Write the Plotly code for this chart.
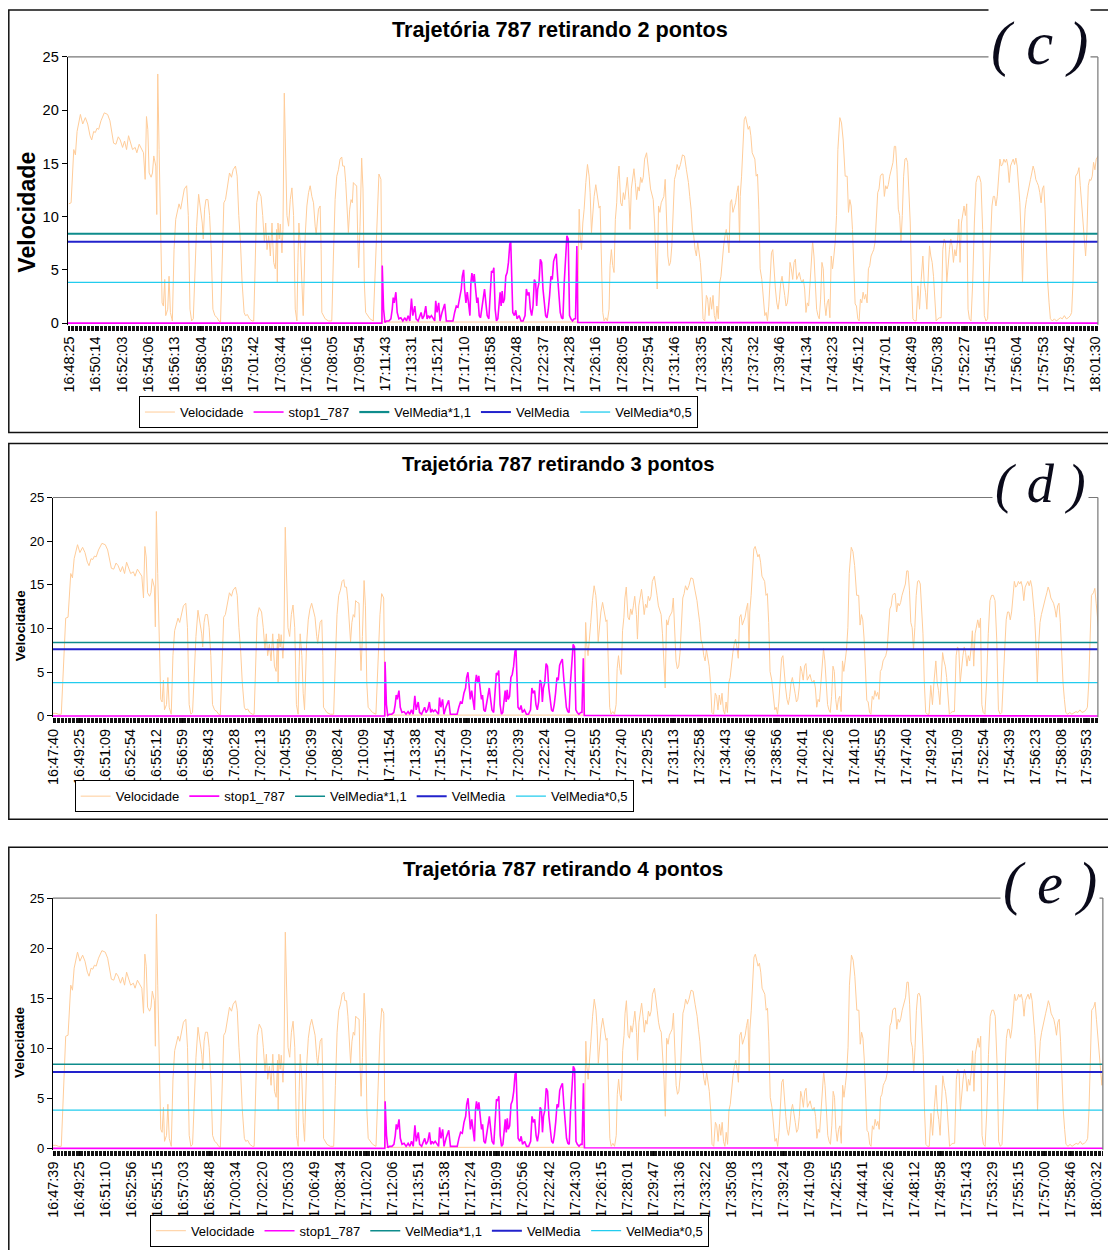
import plotly.graph_objects as go

W, H = 1108, 1250
FONT = "Liberation Sans, Arial, sans-serif"
SERIF = "Liberation Serif, Times New Roman, serif"
# the photographed page is inset by about 8px and shrunk slightly; positions below are
# taken from the reference picture and mapped back onto the page
INSET, SX, SY = 8.0, 0.992, 0.989

# ---------------- tick labels ----------------
labels_c = ["16:48:25", "16:50:14", "16:52:03", "16:54:06", "16:56:13", "16:58:04", "16:59:53",
            "17:01:42", "17:03:44", "17:06:16", "17:08:05", "17:09:54", "17:11:43", "17:13:31",
            "17:15:21", "17:17:10", "17:18:58", "17:20:48", "17:22:37", "17:24:28", "17:26:16",
            "17:28:05", "17:29:54", "17:31:46", "17:33:35", "17:35:24", "17:37:32", "17:39:46",
            "17:41:34", "17:43:23", "17:45:12", "17:47:01", "17:48:49", "17:50:38", "17:52:27",
            "17:54:15", "17:56:04", "17:57:53", "17:59:42", "18:01:30"]
labels_d = ["16:47:40", "16:49:25", "16:51:09", "16:52:54", "16:55:12", "16:56:59", "16:58:43",
            "17:00:28", "17:02:13", "17:04:55", "17:06:39", "17:08:24", "17:10:09", "17:11:54",
            "17:13:38", "17:15:24", "17:17:09", "17:18:53", "17:20:39", "17:22:24", "17:24:10",
            "17:25:55", "17:27:40", "17:29:25", "17:31:13", "17:32:58", "17:34:43", "17:36:46",
            "17:38:56", "17:40:41", "17:42:26", "17:44:10", "17:45:55", "17:47:40", "17:49:24",
            "17:51:09", "17:52:54", "17:54:39", "17:56:23", "17:58:08", "17:59:53"]
labels_e = ["16:47:39", "16:49:25", "16:51:10", "16:52:56", "16:55:15", "16:57:03", "16:58:48",
            "17:00:34", "17:02:20", "17:05:03", "17:06:49", "17:08:34", "17:10:20", "17:12:06",
            "17:13:51", "17:15:38", "17:17:24", "17:19:09", "17:20:56", "17:22:42", "17:24:30",
            "17:26:15", "17:28:01", "17:29:47", "17:31:36", "17:33:22", "17:35:08", "17:37:13",
            "17:39:24", "17:41:09", "17:42:55", "17:44:41", "17:46:26", "17:48:12", "17:49:58",
            "17:51:43", "17:53:29", "17:55:15", "17:57:00", "17:58:46", "18:00:32"]

# ---------------- velocity (sample index, value) ----------------
vel_t = [1, 8, 16, 21, 26, 31, 36, 43, 51, 58, 65, 70, 76, 81, 86, 91, 98, 108, 118, 125, 131, 136,
         143, 150, 156, 163, 169, 175, 181, 187, 193, 201, 206, 213, 220, 226, 231, 235, 239, 243,
         249, 253, 257, 263, 266, 269, 273, 278, 282, 286, 290, 293, 299, 303, 307, 313, 318, 323,
         328, 333, 338, 343, 349, 356, 361, 366, 371, 376, 381, 386, 392, 398, 403, 406, 410, 414,
         420, 425, 430, 435, 441, 448, 453, 458, 463, 468, 473, 478, 485, 491, 496, 503, 508, 513,
         518, 523, 529, 533, 539, 545, 553, 558, 563, 567, 573, 580, 585, 590, 594, 598, 603, 608,
         613, 618, 623, 627, 629, 631, 635, 638, 643, 646, 650, 655, 658, 663, 668, 673, 678, 683,
         688, 691, 694, 699, 703, 707, 713, 718, 723, 728, 733, 738, 743, 746, 749, 753, 758,
         761, 763, 773, 783, 793, 798, 803, 808, 813, 818, 823, 826, 831, 835, 839, 843, 847, 851,
         855, 858, 863, 868, 871, 874, 878, 883, 887, 891, 895, 901, 908, 918, 925, 930, 935, 941,
         945, 1533,
         1538, 1541, 1545, 1549, 1553, 1558, 1563, 1568, 1571, 1575, 1579, 1583, 1588, 1593, 1598,
         1601, 1605, 1609, 1613, 1618, 1623, 1628, 1631, 1635, 1639, 1643, 1647, 1651, 1654, 1658,
         1663, 1667, 1671, 1675, 1679, 1683, 1688, 1691, 1695, 1699, 1703, 1707, 1711, 1715, 1719,
         1723, 1727, 1731, 1735, 1741, 1745, 1749, 1753, 1757, 1761, 1765, 1769, 1773, 1777, 1781,
         1785, 1789, 1793, 1797, 1801, 1805, 1809, 1813, 1817, 1821, 1825, 1829, 1833, 1838, 1843,
         1849, 1855, 1861, 1867, 1871, 1875, 1879, 1883, 1887, 1891, 1895, 1899, 1903, 1907, 1911,
         1916, 1921, 1925, 1929, 1933, 1937, 1941, 1945, 1949, 1953, 1957, 1961, 1965, 1969, 1973,
         1977, 1981, 1985, 1989, 1993, 1997, 2001, 2005, 2009, 2013, 2017, 2021, 2023, 2027, 2031,
         2035, 2039, 2043, 2047, 2051, 2055, 2059, 2063, 2067, 2071, 2075, 2079, 2083, 2088, 2093,
         2097, 2101, 2105, 2109, 2113, 2117, 2121, 2125, 2129, 2133, 2137, 2141, 2145, 2149, 2153,
         2157, 2161, 2165, 2169, 2173, 2177, 2181, 2185, 2189, 2193, 2197, 2201, 2205, 2209, 2213,
         2217, 2221, 2225, 2229, 2233, 2237, 2241, 2245, 2249, 2253, 2257, 2261, 2265, 2269, 2273,
         2277, 2281, 2285, 2289, 2293, 2297, 2301, 2305, 2309, 2313, 2317, 2323, 2328, 2333, 2339,
         2345, 2349, 2353, 2357, 2361, 2365, 2369, 2373, 2377, 2381, 2385, 2389, 2393, 2397, 2401,
         2405, 2409, 2413, 2417, 2421, 2425, 2429, 2433, 2437, 2441, 2445, 2449, 2453, 2457, 2461,
         2465, 2469, 2473, 2478, 2483, 2487, 2491, 2495, 2499, 2503, 2507, 2511, 2515, 2519, 2523,
         2527, 2531, 2535, 2539, 2543, 2548, 2553, 2558, 2563, 2568, 2573, 2577, 2581, 2585, 2589,
         2593, 2597, 2601, 2605, 2609, 2613, 2618, 2623, 2628, 2633, 2637, 2641, 2645, 2649, 2653,
         2657, 2661, 2665, 2669, 2673, 2677, 2681, 2685, 2689, 2693, 2697, 2701, 2705, 2709, 2713,
         2718, 2723, 2728, 2733, 2738, 2743, 2748, 2753, 2758, 2763, 2768, 2773, 2777, 2781, 2785,
         2789, 2793, 2797, 2801, 2805, 2809, 2813, 2817, 2821, 2825, 2829, 2833, 2837, 2841, 2845,
         2849, 2853, 2857, 2861, 2865, 2869, 2873, 2877, 2881, 2885, 2889, 2893, 2897, 2901, 2905,
         2909, 2913, 2917, 2921, 2925, 2929, 2933, 2937, 2941, 2945, 2949, 2953, 2957, 2963, 2969,
         2975, 2981, 2987, 2993, 2999, 3005, 3011, 3017, 3021, 3025, 3029, 3033, 3039, 3043, 3047,
         3051, 3055, 3059, 3063, 3067, 3071, 3075, 3079, 3083, 3087, 3091, 3095, 3101]
vel_v = [11.2, 11.3, 16.3, 15.8, 18, 19, 19.6, 18.7, 19.3, 18.7, 17.6, 17.2, 18, 17.9, 18.3, 18.2,
         19, 19.75, 19.6, 19, 18, 16.9, 16.8, 17.5, 17.2, 16.5, 17.1, 16.3, 17.6, 16.9, 16.3, 16.5,
         16, 16.8, 16.3, 16, 13.5, 19.4, 18.2, 14.1, 13.7, 14.1, 15.7, 14.75, 10.2, 23.4, 16.3, 6.9,
         1.9, 1.6, 4.1, 0.7, 1.3, 4.4, 1.0, 0.2, 6.9, 9.75, 10.4, 11.2, 10.7, 11.6, 12.6, 12.9,
         10.1, 1.3, 0.2, 0.4, 5.7, 9.1, 12.1, 10.7, 9.4, 7.9, 10.7, 11.6, 11.6, 10.1, 6.9, 1.3, 0.7,
         0.5, 0.2, 0.1, 6.9, 11.3, 11.6, 12.6, 14.1, 13.7, 14.4, 14.75, 13.8, 10.1, 7.6, 3.8, 1.0,
         0.7, 0.8, 0.4, 0.2, 0.2, 7.6, 11.3, 12.4, 11.9, 10.1, 7.6, 9.4, 6.9, 8.2, 6.3, 9.4, 5.7,
         5.1, 8.8, 3.8, 9.4, 7.9, 9.3, 6.6, 8.8, 21.6, 14.75, 10.1, 9.1, 11.6, 12.7, 10.1, 1.3, 0.2,
         5.7, 9.4, 6.9, 2.6, 0.7, 8.2, 11, 12.25, 12.9, 11.9, 11.3, 9.1, 8.3, 9.4, 10.7, 11,
         6.9, 1.0, 0.4, 0.2, 0.2, 6.3, 11.6, 13.8, 14.4, 15.4, 15.6, 14.75, 14.75, 13.2, 10.7, 8.5,
         10.7, 11.6, 11.3, 13.2, 13, 12.9, 8.2, 5.2, 9.1, 15.5, 12.6, 3.8, 1.0, 0.7, 0.4, 0.2, 6.3,
         11.6, 14, 13.5,
         0.1, 0.1,
         10.7, 8.2, 6.9, 9.4, 10.7, 13.2, 14.9, 13.8, 12.25, 8.5, 10.7, 11.9, 13, 11.9, 10.8, 11,
         6.9, 1.0, 0.2, 0.5, 0.2, 1.3, 5.4, 6.9, 5.4, 4.75, 9.75, 11.3, 13.5, 14.75, 11.3, 11, 12.25,
         11.6, 12.6, 13.7, 11.6, 8.8, 12.6, 13.8, 14.5, 13.2, 11.6, 12.8, 12.4, 13.7, 13.2, 13.7,
         15.4, 16, 15.1, 13.8, 12.6, 11.9, 11.6, 9.4, 6.9, 3.2, 11, 10.4, 11.3, 11.6, 11.9, 13.5,
         8.8, 6.3, 5.4, 5.7, 7.25, 11.3, 13.5, 14, 14.9, 14.4, 14.9, 15.8, 15.7, 14.4, 13.2, 11.9,
         10.7, 8.7, 8.2, 6.9, 6.3, 7.6, 6.6, 5.7, 3.8, 0.4, 0.2, 2.6, 2.25, 0.7, 2.4, 1.3, 2.6, 0.7,
         0.2, 1.6, 0.4, 3.8, 4.4, 6.3, 7.25, 8.2, 8.8, 7.9, 6.6, 11.3, 11.6, 10.4, 11, 11.3, 12.25,
         12.9, 7.6, 11.9, 13.8, 16.3, 19.1, 19.4, 18.7, 18.2, 18.5, 17.6, 16, 15.7, 15.4, 13.8, 14,
         10.7, 5.1, 4.1, 1.9, 0.7, 1.0, 0.2, 1.6, 4.4, 6.6, 6.9, 4.4, 3.2, 1.9, 1.3, 2.25, 3.8, 4.4,
         3.2, 2.6, 1.6, 1.9, 3.2, 5.7, 5.1, 4.1, 5.7, 6.0, 4.1, 4.4, 4.75, 4.1, 3.8, 4.1, 3.2, 1.0,
         1.9, 1.6, 3.8, 6.3, 7.7, 6.3, 3.8, 1.3, 0.7, 0.4, 2.25, 5.7, 5.1, 1.9, 0.7, 1.9, 2.25, 0.5,
         6.3, 5.1, 6.3, 7.6, 10.1, 16.3, 19.3, 18.8, 17.2, 13.8,
         13.8, 10.4, 11.6, 11, 8.8, 6.0, 1.8, 1.6, 0.4, 0.2, 2.25, 1.9, 2.9, 2.25, 2.7, 1.9, 5.1,
         5.4, 6.3, 6.6, 6.9, 7.6, 10.1, 12.25, 12.6, 13.8, 14, 14, 11.9, 12.9, 12.6, 13, 13.8, 14.4,
         15.1, 16.6, 16.6, 14.4, 10.7, 10.1, 7.6, 10.1, 13.8, 15.4, 15.5, 15.1, 12.6, 9.4, 3.8, 0.4,
         0.2, 0.2, 3.5, 1.3, 4.1, 6.3, 3.8, 2.9, 1.3, 4.4, 7.25, 6.3, 5.7, 4.4, 1.6, 0.2, 0.4, 0.5,
         0.5, 6.9, 7.9, 7.6, 3.8, 5.7, 6.9, 7.9, 7.25, 5.7, 6.9, 6.3, 7.6, 9.75, 5.7, 9.4, 10.4, 11,
         10.1, 11.2, 1.3, 0.4, 0.2, 3.8, 9.4, 13.2, 13.8, 13.8, 13.2, 8.8, 0.7, 0.2, 0.4, 3.8, 7.9,
         11, 11.9, 11.9, 11, 11.9, 14.1, 15.4, 14.75, 14.9, 15.4, 15.1, 15.4, 14.75, 13.2, 14.75,
         15.1, 15.4, 14.9, 15.5, 14.75, 13.2, 11.3, 8.2, 3.8, 8.2, 10.7, 11.6, 12.25, 13.2, 13.5,
         14.1, 14.75, 14.3, 13.5, 13.2, 12.9, 12.25, 11.3, 12.6, 12.9, 10.7, 6.9, 3.8, 1.9, 0.4,
         0.2, 0.4, 0.2, 0.4, 0.5, 0.4, 0.7, 0.4, 0.5, 0.7, 1.0, 3.8, 10.1, 13.8, 14.1, 14.6, 12.9,
         11.3, 9.4, 7.6, 6.3, 8.5, 12.9, 13.5, 13.4, 13.8, 15.1, 14.4, 15.4, 15.7]

# readings before the first sample of (c), present in (d) and (e)
lead_t = [-40, -28, -20, -12]
lead_v = [0.3, 0.3, 0.2, 0.2]

# ---------------- stop1_787 (sample index, value) ----------------
stop_t = [-40, 944, 945, 949, 953, 958, 965, 971, 975, 978, 981, 986, 990, 995, 1001, 1007, 1013,
          1018, 1023, 1028, 1033, 1037, 1043, 1047, 1053, 1058, 1062, 1066, 1071, 1076, 1080,
          1084, 1088, 1093, 1098, 1103, 1106, 1110, 1115, 1119, 1125, 1128, 1133, 1138, 1145,
          1153, 1158, 1163, 1168, 1173, 1178, 1183, 1186, 1190, 1193, 1197, 1201, 1205, 1209,
          1212, 1215, 1219, 1222, 1226, 1230, 1233, 1237, 1241, 1245, 1249, 1253, 1257, 1261,
          1266, 1270, 1274, 1278, 1281, 1285, 1289, 1293, 1297, 1300, 1303, 1306, 1309, 1313,
          1317, 1321, 1325, 1329, 1332, 1335, 1338, 1343, 1347, 1351, 1357, 1363, 1369, 1375,
          1379, 1383, 1387, 1391, 1395, 1399, 1403, 1407, 1410, 1413, 1417, 1421, 1425, 1429,
          1433, 1437, 1441, 1445, 1449, 1453, 1457, 1461, 1465, 1469, 1473, 1477, 1481, 1485,
          1489, 1493, 1497, 1501, 1505, 1509, 1513, 1518, 1523, 1527, 1531, 1534, 3110]
stop_c = [0, 0, 5.4, 1.3, 0.06, 0.2, 0.2, 0.4, 1.3, 2.4, 1.9, 2.9, 1.0, 0.4, 0.5, 0.2, 0.5, 0.2,
          0.7, 0.2, 2.3, 0.7, 1.6, 0.4, 0.2, 0.7, 1.0, 0.4, 0.7, 1.6, 0.4, 0.7, 0.5, 0.7, 0.4, 0.2,
          2.1, 1.0, 1.9, 0.2, 1.0, 1.3, 1.8, 0.2, 0.2, 0.2, 0.2, 1.0, 1.6, 1.5, 2.6, 3.2, 4.4, 5.0,
          3.2, 1.9, 2.9, 1.9, 0.7, 3.8, 4.7, 3.8, 4.6, 3.2, 1.9, 2.4, 0.7, 0.5, 1.6, 2.25, 3.2, 1.9,
          0.7, 0.4, 3.2, 4.9, 4.75, 5.2, 1.3, 0.2, 0.4, 1.9, 2.9, 1.6, 3.0, 1.9, 2.25, 4.4, 4.75,
          5.7, 7.4, 7.6, 3.8, 1.0, 0.7, 1.2, 0.4, 0.7, 0.2, 0.2, 0.7, 3.2, 2.6, 2.9, 1.3, 0.7, 1.6,
          4.1, 3.8, 1.6, 3.2, 3.8, 6.0, 5.7, 3.2, 1.9, 0.7, 0.5, 1.3, 2.6, 4.4, 4.1, 5.8, 6.2, 6.5,
          4.4, 2.6, 1.0, 0.5, 0.4, 3.8, 5.7, 8.2, 7.9, 0.7, 0.4, 0.2, 0.4, 0.4, 7.25, 0.06, 0]
stop_d = stop_c[:2] + [6.2] + stop_c[3:-3] + [6.6, 0.06, 0]
stop_e = stop_c[:2] + [4.7] + stop_c[3:-3] + [6.5, 0.06, 0]

vel_media = 7.63
media_names = ["VelMedia*1,1", "VelMedia", "VelMedia*0,5"]
media_factors = [1.1, 1.0, 0.5]


def px(x):
    return ((x - INSET) / SX) / W


def py(y):
    return 1 - ((y - INSET) / SY) / H


def fs(s):
    return s / SX


panels = [
    dict(key="", title="Trajetória 787 retirando 2 pontos", letter="( c )",
         xd=(68, 1102), yd=(57, 325), xr=(-2, 3100), first=3, last=3093, labels=labels_c,
         t=vel_t, v=vel_v, stop=stop_c, tsize=21.5, tpos=(562, 30), lsize=60, lpos=(1043, 44),
         ytsize=23, ytpos=(27, 212), ysize=14.5, xsize=14.3,
         leg=(420, 412.5), frame=(8.8, 10, 1130, 433), wmedia=(2.2, 2.0, 1.3)),
    dict(key="2", title="Trajetória 787 retirando 3 pontos", letter="( d )",
         xd=(53, 1102), yd=(498, 718), xr=(-37, 3052), first=-36, last=3019, labels=labels_d,
         t=lead_t + vel_t, v=lead_v + vel_v, stop=stop_d, tsize=20, tpos=(561, 464), lsize=54,
         lpos=(1044, 484), ytsize=13.5, ytpos=(20, 626), ysize=13, xsize=14.3,
         leg=(355.5, 797), frame=(8.8, 444, 1130, 820), wmedia=(1.5, 2.0, 1.3)),
    dict(key="3", title="Trajetória 787 retirando 4 pontos", letter="( e )",
         xd=(53, 1107), yd=(899, 1151), xr=(-37, 3066), first=-36, last=3048, labels=labels_e,
         t=lead_t + vel_t, v=lead_v + vel_v, stop=stop_e, tsize=20.5, tpos=(565, 869), lsize=58,
         lpos=(1054, 884), ytsize=13.5, ytpos=(20, 1043), ysize=13, xsize=14.3,
         leg=(431, 1232), frame=(8.8, 848, 1130, 1300), wmedia=(1.5, 2.0, 1.3)),
]

fig = go.Figure()
layout = dict(width=W, height=H, margin=dict(l=0, r=0, t=0, b=0), paper_bgcolor="white",
              plot_bgcolor="white", showlegend=True, font=dict(family=FONT, color="black"))
shapes = []
annotations = []
media_colors = ["#0E8C8C", "#2222CC", "#22CCEE"]

for i, p in enumerate(panels):
    k = p["key"]
    xa, ya = "x" + k, "y" + k
    leg = "legend" + k
    x0, x1 = p["xr"]
    fig.add_trace(go.Scatter(x=p["t"], y=p["v"], mode="lines", name="Velocidade",
                             line=dict(color="#FFCC99", width=1), xaxis=xa, yaxis=ya, legend=leg))
    fig.add_trace(go.Scatter(x=stop_t, y=p["stop"], mode="lines", name="stop1_787",
                             line=dict(color="#FF00FF", width=1.6), xaxis=xa, yaxis=ya, legend=leg))
    for nm, f, c, w in zip(media_names, media_factors, media_colors, p["wmedia"]):
        fig.add_trace(go.Scatter(x=[x0, x1], y=[vel_media * f] * 2, mode="lines", name=nm,
                                 line=dict(color=c, width=w), xaxis=xa, yaxis=ya, legend=leg))
    n = len(p["labels"])
    tv = [p["first"] + (p["last"] - p["first"]) * j / (n - 1) for j in range(n)]
    layout["xaxis" + k] = dict(
        domain=[px(p["xd"][0]), min(1.0, px(p["xd"][1]))], range=[x0, x1], anchor=ya,
        tickmode="array", tickvals=tv, ticktext=p["labels"], tickangle=-90,
        ticks="outside", ticklen=5, tickcolor="black", tickwidth=1,
        tickfont=dict(size=fs(p["xsize"]), family=FONT, color="black"),
        ticklabeloverflow="allow",
        showgrid=False, zeroline=False, showline=False, layer="below traces",
        minor=dict(tickmode="linear", tick0=0, dtick=4, ticks="outside", ticklen=5,
                   tickcolor="#111111", tickwidth=1, showgrid=False))
    layout["yaxis" + k] = dict(
        domain=[py(p["yd"][1]), py(p["yd"][0])], range=[-0.15, 25], anchor=xa,
        tickmode="array", tickvals=[0, 5, 10, 15, 20, 25], ticks="outside", ticklen=5,
        tickcolor="black", tickfont=dict(size=fs(p["ysize"]), family=FONT, color="black"),
        showgrid=False, zeroline=False, showline=True, linecolor="black", linewidth=1)
    layout[leg] = dict(x=px(p["leg"][0]), y=py(p["leg"][1]), xanchor="center", yanchor="middle",
                       orientation="h", bordercolor="black", borderwidth=1, bgcolor="white",
                       font=dict(size=13, family=FONT, color="black"), itemwidth=30,
                       traceorder="normal")
    fx0, fy0, fx1, fy1 = p["frame"]
    shapes.append(dict(type="rect", xref="paper", yref="paper", x0=px(fx0), x1=px(fx1),
                       y0=py(fy1), y1=py(fy0), line=dict(color="#111111", width=1.5), layer="below"))
    # plot-area border (top and right)
    shapes.append(dict(type="line", xref="paper", yref="paper", x0=px(p["xd"][0]), x1=px(p["xd"][1]),
                       y0=py(p["yd"][0]), y1=py(p["yd"][0]), line=dict(color="#777777", width=1.2)))
    shapes.append(dict(type="line", xref="paper", yref="paper", x0=px(p["xd"][1]), x1=px(p["xd"][1]),
                       y0=py(p["yd"][0]), y1=py(p["yd"][1]), line=dict(color="#777777", width=1.2)))
    annotations.append(dict(text="<b>" + p["title"] + "</b>", xref="paper", yref="paper",
                            x=px(p["tpos"][0]), y=py(p["tpos"][1]), xanchor="center",
                            yanchor="middle", showarrow=False,
                            font=dict(size=fs(p["tsize"]), family=FONT, color="black")))
    annotations.append(dict(text="<b>Velocidade</b>", xref="paper", yref="paper",
                            x=px(p["ytpos"][0]), y=py(p["ytpos"][1]), xanchor="center",
                            yanchor="middle", showarrow=False, textangle=-90,
                            font=dict(size=fs(p["ytsize"]), family=FONT, color="black")))
    annotations.append(dict(text="<i>" + p["letter"] + "</i>", xref="paper", yref="paper",
                            x=px(p["lpos"][0]), y=py(p["lpos"][1]), xanchor="center",
                            yanchor="middle", showarrow=False, bgcolor="white", borderpad=2,
                            font=dict(size=fs(p["lsize"]), family=SERIF, color="#0a0a1a")))

layout["shapes"] = shapes
layout["annotations"] = annotations
fig.update_layout(**layout)

page_css = (
    "var d=document.getElementById('{plot_id}');"
    "document.documentElement.style.margin='0';document.documentElement.style.padding='0';"
    "document.documentElement.style.overflow='hidden';"
    "document.body.style.margin='0';document.body.style.padding='0';"
    "document.body.style.overflow='hidden';"
    "d.style.position='absolute';d.style.left='0px';d.style.top='0px';"
)
fig.write_html("out.html", config={"displayModeBar": False}, post_script=page_css)
